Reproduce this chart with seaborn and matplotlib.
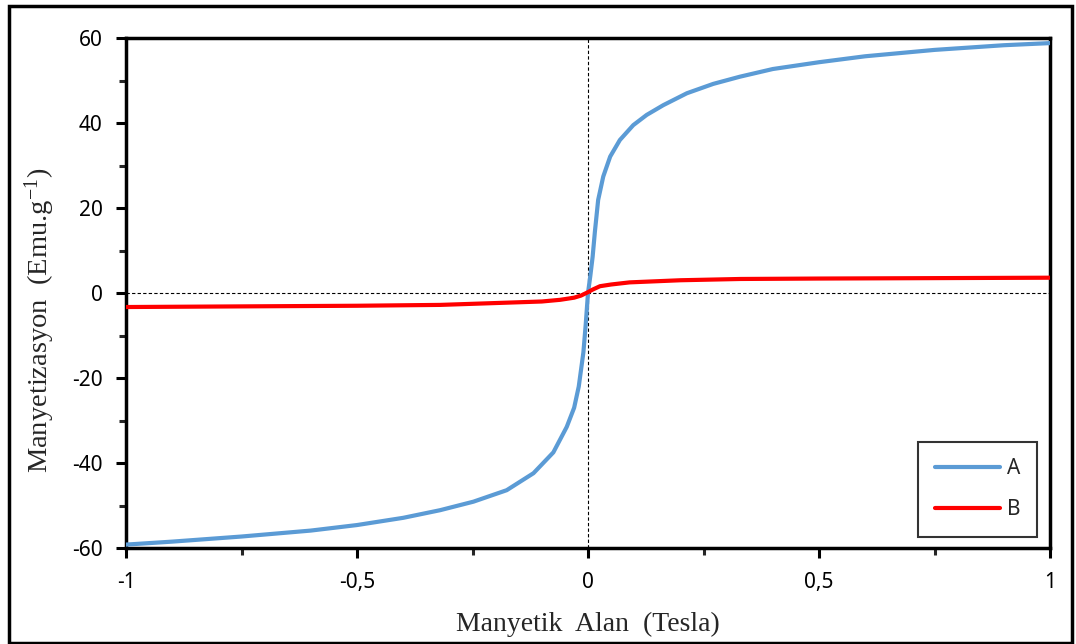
import pandas as pd
import seaborn as sns
import matplotlib.pyplot as plt
from matplotlib.patches import Rectangle
from matplotlib.ticker import MultipleLocator

# numune A: manyetik alan (Tesla) ve manyetizasyon (emu/g)
field_a = [-1, -0.9, -0.75, -0.6, -0.5, -0.4, -0.32, -0.248, -0.176, -0.118, -0.075, -0.046,
           -0.03, -0.02, -0.01, -0.005, 0, 0.005, 0.01, 0.015, 0.022, 0.033, 0.048, 0.069,
           0.098, 0.127, 0.163, 0.214, 0.271, 0.329, 0.4, 0.5, 0.6, 0.75, 0.9, 1]
mag_a = [-59.2, -58.5, -57.3, -55.9, -54.6, -52.9, -51.1, -49.1, -46.4, -42.4, -37.5, -31.5,
         -27.0, -22.0, -14.0, -7.5, 0, 4.0, 8.5, 14.5, 21.9, 27.4, 32.1, 36.0,
         39.5, 41.9, 44.2, 47.0, 49.2, 50.9, 52.7, 54.3, 55.7, 57.2, 58.3, 58.8]

# numune B
field_b = [-1, -0.75, -0.5, -0.32, -0.21, -0.1, -0.06, -0.03, -0.015, 0, 0.01, 0.026,
           0.05, 0.09, 0.2, 0.33, 0.5, 0.75, 1]
mag_b = [-3.3, -3.15, -3.0, -2.8, -2.4, -2.0, -1.6, -1.1, -0.6, 0.2, 0.8, 1.6,
         2.0, 2.5, 3.0, 3.3, 3.4, 3.5, 3.6]

x_ticks = [-1, -0.5, 0, 0.5, 1]
x_labels = ['-1', '-0,5', '0', '0,5', '1']
y_ticks = [-60, -40, -20, 0, 20, 40, 60]
y_labels = ['-60', '-40', '-20', '0', '20', '40', '60']

df = pd.DataFrame({
    'alan': field_a + field_b,
    'mag': mag_a + mag_b,
    'numune': ['A'] * len(field_a) + ['B'] * len(field_b),
})

sns.set_style('white')
plt.rcParams['font.family'] = ['Noto Sans', 'DejaVu Sans']
plt.rcParams['mathtext.fontset'] = 'stix'

fig = plt.figure(figsize=(10.76, 6.44), dpi=100)
ax = fig.add_axes([126 / 1076, 1 - 548 / 644, 924 / 1076, 510 / 644])

ax.axhline(0, color='black', lw=0.8, ls=(0, (3, 2)), zorder=1)
ax.axvline(0, color='black', lw=0.8, ls=(0, (3, 2)), zorder=1)

sns.lineplot(data=df, x='alan', y='mag', hue='numune', sort=True,
             palette={'A': '#5B9BD5', 'B': '#FF0000'}, lw=3, ax=ax, zorder=3)

ax.set_xlim(-1, 1)
ax.set_ylim(-60, 60)
ax.set_xticks(x_ticks)
ax.set_xticklabels(x_labels)
ax.set_yticks(y_ticks)
ax.set_yticklabels(y_labels)
ax.xaxis.set_minor_locator(MultipleLocator(0.25))
ax.yaxis.set_minor_locator(MultipleLocator(10))
ax.tick_params(which='major', direction='out', length=7, width=2.2, labelsize=15,
               colors='black', pad=10, left=True, bottom=True)
ax.tick_params(which='minor', direction='out', length=5, width=2.2, left=True, bottom=True)
for s in ax.spines.values():
    s.set_linewidth(2.5)
    s.set_color('black')

ax.set_xlabel('Manyetik  Alan  (Tesla)', family='Liberation Serif', fontsize=20, labelpad=14)
ax.set_ylabel(r'Manyetizasyon  (Emu.g$^{\mathregular{-1}}$)', family='Liberation Serif',
              fontsize=20.5)
ax.yaxis.set_label_coords(-0.075, 0.447)

leg = ax.legend(title=None, loc='lower right', bbox_to_anchor=(0.986, 0.022),
                borderaxespad=0, fontsize=15, handlelength=3.1, fancybox=False,
                frameon=True, borderpad=0.8, labelspacing=0.95, handletextpad=0.35)
leg.get_frame().set_edgecolor('black')
leg.get_frame().set_linewidth(1.5)
for line in leg.get_lines():
    line.set_linewidth(3)

fig.patches.append(Rectangle((9 / 1076, 1 / 644), 1063 / 1076, 637 / 644,
                             transform=fig.transFigure, fill=False,
                             edgecolor='black', lw=2.5))

fig.savefig('out.png', dpi=100)
